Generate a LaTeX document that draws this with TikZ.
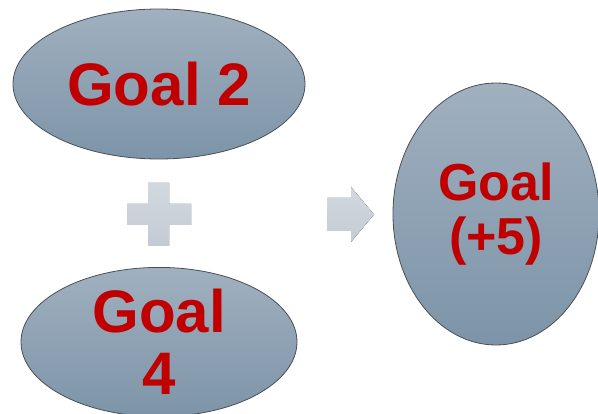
\documentclass[tikz,border=0pt]{standalone}
\usepackage{fontspec}
\setmainfont{Liberation Sans}
\usepackage{xcolor}
\usepackage{tikz}
\usetikzlibrary{shapes.geometric}
\definecolor{goalred}{HTML}{C00000}
\definecolor{goaltop}{HTML}{A0B0BF}
\definecolor{goalbot}{HTML}{7D94A8}
\definecolor{edge}{HTML}{4A4F55}
\definecolor{signtop}{HTML}{D2D8DF}
\definecolor{signbot}{HTML}{C4CBD4}
\tikzset{
  goal/.style={ellipse, draw=edge, line width=0.8pt, top color=goaltop, bottom color=goalbot,
    inner sep=0pt, align=center, text=goalred, font=\bfseries\fontsize{60}{62}\selectfont},
  goalsm/.style={goal, font=\bfseries\fontsize{52}{54}\selectfont},
  sign/.style={top color=signtop, bottom color=signbot, draw=none},
}
\begin{document}
\begin{tikzpicture}[x=1pt,y=-1pt]
  \useasboundingbox (0,0) rectangle (598,414);
  \clip (0,0) rectangle (598,414);

  \node[goal, minimum width=292pt, minimum height=150pt] (g2) at (159,84) {Goal 2};
  \node[goal, minimum width=276pt, minimum height=146pt] (g4) at (159,342) {Goal\\4};
  \node[goalsm, minimum width=206pt, minimum height=262pt] (g5) at (496,214) {Goal\\(+5)};

  % plus sign
  \fill[sign] (148,183) -- (169,183) -- (169,204) -- (191,204) -- (191,225) -- (169,225)
    -- (169,246) -- (148,246) -- (148,225) -- (127,225) -- (127,204) -- (148,204) -- cycle;
  % arrow
  \fill[sign] (327,198) -- (351,198) -- (351,187) -- (374,214.5) -- (351,242)
    -- (351,231) -- (327,231) -- cycle;
\end{tikzpicture}
\end{document}
